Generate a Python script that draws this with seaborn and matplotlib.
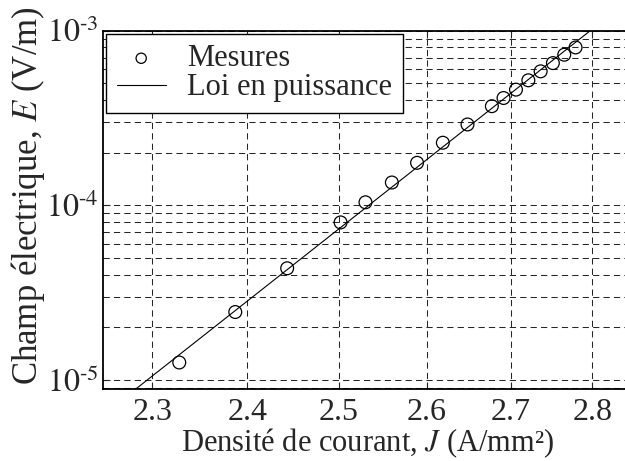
import math
import matplotlib
matplotlib.use('Agg')
import matplotlib.pyplot as plt
import matplotlib.ticker as mticker
import seaborn as sns
import pandas as pd

J_mes = [2.328, 2.387, 2.443, 2.502, 2.530, 2.560, 2.589, 2.619, 2.648,
         2.677, 2.691, 2.706, 2.721, 2.736, 2.751, 2.765, 2.779]
E_mes = [1.26e-5, 2.45e-5, 4.36e-5, 7.98e-5, 1.04e-4, 1.35e-4, 1.75e-4,
         2.28e-4, 2.90e-4, 3.69e-4, 4.11e-4, 4.59e-4, 5.19e-4, 5.84e-4,
         6.51e-4, 7.27e-4, 8.0e-4]

# Loi en puissance: straight line in log-log, end points
J_fit = [2.28, 2.80]
E_fit = [8.6e-6, 1.02e-3]

x_ticks = [2.3, 2.4, 2.5, 2.6, 2.7, 2.8]

sns.set_style('ticks')
plt.rcParams['font.family'] = ['Liberation Serif', 'DejaVu Serif']
plt.rcParams['mathtext.fontset'] = 'stix'

df_mes = pd.DataFrame({'J': J_mes, 'E': E_mes})
df_fit = pd.DataFrame({'J': J_fit, 'E': E_fit})

fig = plt.figure(figsize=(6.25, 4.61), dpi=100)
ax = fig.add_axes([0.1648, 0.1555, 0.8464, 0.7783])

sns.lineplot(data=df_fit, x='J', y='E', ax=ax, color='black', linewidth=0.8,
             label='Loi en puissance', zorder=3)
sns.scatterplot(data=df_mes, x='J', y='E', ax=ax, marker='o', s=85,
                facecolor='none', edgecolor='black', linewidth=0.9,
                label='Mesures', zorder=4)

ax.set_xscale('log')
ax.set_yscale('log')
ax.set_xlim(2.25, 2.85)
ax.set_ylim(8.85e-6, 1.0e-3)

ax.xaxis.set_major_locator(mticker.FixedLocator(x_ticks))
ax.xaxis.set_major_formatter(mticker.FixedFormatter([str(t) for t in x_ticks]))
ax.xaxis.set_minor_locator(mticker.NullLocator())
ax.yaxis.set_major_locator(mticker.LogLocator(base=10))
ax.yaxis.set_minor_locator(mticker.LogLocator(base=10, subs=range(2, 10)))
ax.yaxis.set_minor_formatter(mticker.NullFormatter())
# short hyphen in the exponent, like the original figure
ax.yaxis.set_major_formatter(mticker.FuncFormatter(
    lambda v, p: '$10^{\u2010%d}$' % abs(round(math.log10(v)))))

grid_kw = dict(color='0.15', linewidth=0.75, linestyle=(0, (6, 4)))
ax.grid(True, which='major', axis='x', **grid_kw)
ax.grid(True, which='both', axis='y', **grid_kw)

ax.tick_params(axis='both', which='both', direction='in', top=True, right=True)
ax.tick_params(axis='both', which='major', length=5, width=0.8, labelsize=23)
ax.tick_params(axis='x', which='major', pad=6)
ax.tick_params(axis='y', which='major', pad=3)
ax.tick_params(axis='y', which='minor', length=3, width=0.6)
for sp in ax.spines.values():
    sp.set_linewidth(1.3)
    sp.set_color('black')

ax.set_xlabel(r'Densité de courant, $J$ (A/mm²)', fontsize=22, labelpad=0)
ax.set_ylabel(r'Champ électrique, $E$ (V/m)', fontsize=25)
ax.yaxis.set_label_coords(-0.105, 0.54)

handles, labels = ax.get_legend_handles_labels()
order = [labels.index('Mesures'), labels.index('Loi en puissance')]
leg = ax.legend([handles[i] for i in order], [labels[i] for i in order],
                loc='upper left', fontsize=22, frameon=True, fancybox=False,
                framealpha=1, edgecolor='black', borderaxespad=0.1,
                handlelength=1.6, borderpad=0.35, labelspacing=0.0,
                handletextpad=0.7, markerscale=0.8)
leg.get_frame().set_linewidth(1.0)

fig.savefig('out.png', dpi=100)
